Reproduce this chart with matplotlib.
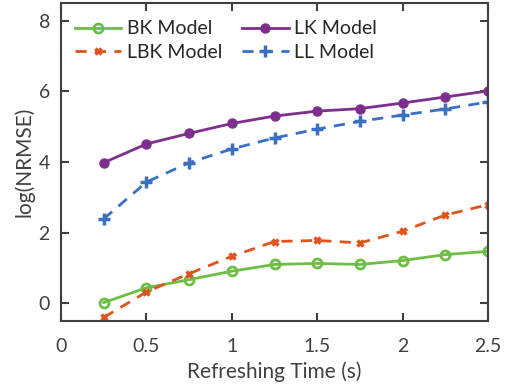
import matplotlib
matplotlib.use("Agg")
import matplotlib.pyplot as plt

plt.rcParams['font.family'] = ['Lato', 'DejaVu Sans']

x = [0.25, 0.5, 0.75, 1.0, 1.25, 1.5, 1.75, 2.0, 2.25, 2.5]
bk = [0.02, 0.44, 0.67, 0.91, 1.10, 1.13, 1.10, 1.21, 1.38, 1.47]
lk = [3.98, 4.51, 4.81, 5.09, 5.30, 5.44, 5.51, 5.67, 5.84, 6.01]
lbk = [-0.40, 0.32, 0.84, 1.33, 1.75, 1.78, 1.71, 2.04, 2.50, 2.79]
ll = [2.39, 3.43, 3.98, 4.37, 4.68, 4.93, 5.15, 5.33, 5.50, 5.70]

xticks = [0, 0.5, 1, 1.5, 2, 2.5]
xticklabels = ['0', '0.5', '1', '1.5', '2', '2.5']
yticks = [0, 2, 4, 6, 8]

fig = plt.figure(figsize=(5.11, 3.92), dpi=100)
ax = fig.add_axes([61/511, 1 - 321/392, (488-61)/511, (321-3)/392])

h_bk, = ax.plot(x, bk, '-', color='#6DBE45', lw=2, marker='o', ms=6.5, mfc='none', mew=2, label='BK Model')
h_lk, = ax.plot(x, lk, '-', color='#7E2F8E', lw=2, marker='o', ms=6.5, mfc='#7E2F8E', label='LK Model')
h_lbk, = ax.plot(x, lbk, '--', color='#E0531E', lw=2, marker='x', ms=5, mew=2.5, label='LBK Model', dashes=(4, 3))
h_ll, = ax.plot(x, ll, '--', color='#3A6FC4', lw=2, marker='+', ms=8, mew=2.5, label='LL Model', dashes=(4, 3))

ax.set_xlim(0, 2.5)
ax.set_ylim(-0.5, 8.5)
ax.set_xticks(xticks)
ax.set_xticklabels(xticklabels)
ax.set_yticks(yticks)

spine_color = '#404040'
for s in ax.spines.values():
    s.set_color(spine_color)
    s.set_linewidth(1.5)
ax.tick_params(direction='in', top=True, right=True, length=6, width=1.5, color=spine_color,
               labelsize=14, labelcolor='#404040')
ax.tick_params(axis='x', pad=12)
ax.tick_params(axis='y', pad=8)

ax.set_xlabel('Refreshing Time (s)', fontsize=15, color='#404040', labelpad=5)
ax.set_ylabel('log(NRMSE)', fontsize=15, color='#404040', labelpad=3)

leg = ax.legend([h_bk, h_lbk, h_lk, h_ll], ['BK Model', 'LBK Model', 'LK Model', 'LL Model'],
                ncol=2, loc='upper left', frameon=False, fontsize=14, handlelength=2.4,
                columnspacing=1.0, handletextpad=0.3, labelspacing=0.33,
                bbox_to_anchor=(0.0, 0.988), borderaxespad=0.3)
for t in leg.get_texts():
    t.set_color('#262626')

fig.savefig('out.png', dpi=100)
